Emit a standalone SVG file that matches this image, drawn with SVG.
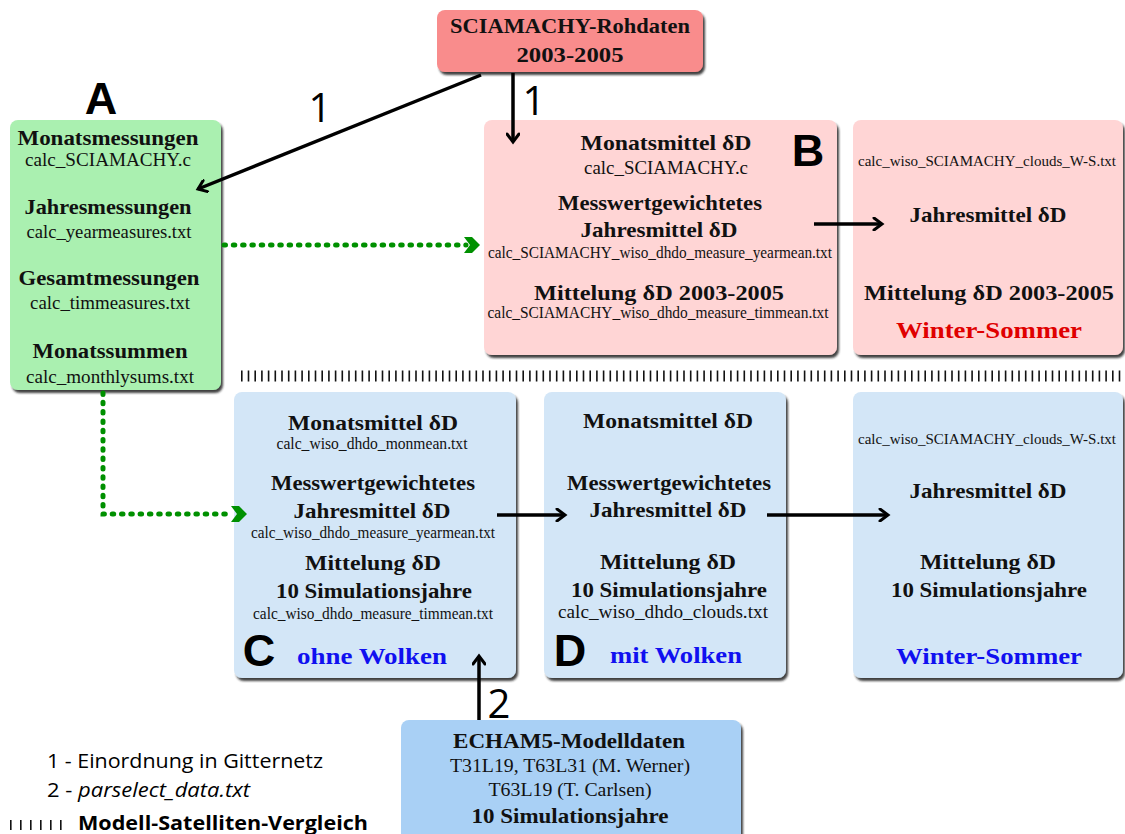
<svg xmlns="http://www.w3.org/2000/svg" width="1125" height="834" viewBox="0 0 1125 834">
<defs>
<filter id="sh" x="-5%" y="-5%" width="112%" height="115%">
<feDropShadow dx="2" dy="3" stdDeviation="1.2" flood-color="#1a1a1a" flood-opacity="0.85"/>
</filter>
<marker id="ah" markerWidth="14" markerHeight="14" refX="11" refY="7" orient="auto" markerUnits="userSpaceOnUse">
<path d="M3,1 L11,7 L3,13" fill="none" stroke="#000" stroke-width="3" stroke-linecap="round" stroke-linejoin="miter"/>
</marker>
</defs>
<style>
.h{font-family:"Liberation Serif",serif;font-weight:bold;font-size:22px;fill:#111;text-anchor:middle}
.f{font-family:"Liberation Serif",serif;font-size:18px;fill:#111;text-anchor:middle}
.s{font-family:"Liberation Serif",serif;font-size:16px;fill:#111;text-anchor:middle}
.ss{font-family:"Liberation Serif",serif;font-size:14px;fill:#111;text-anchor:middle}
.c{font-family:"Liberation Serif",serif;font-weight:bold;font-size:24px;text-anchor:middle}
.L{font-family:"Liberation Sans",sans-serif;font-weight:bold;font-size:45px;fill:#000;text-anchor:middle}
.n{font-family:"Open Sans","Liberation Sans",sans-serif;font-size:40px;fill:#000;text-anchor:middle}
.lg{font-family:"Open Sans","Liberation Sans",sans-serif;font-size:20px;fill:#000}
.w{stroke:#000;stroke-width:3.5;fill:none;marker-end:url(#ah)}
.g{stroke:#009000;stroke-width:5;fill:none;stroke-linecap:round;stroke-dasharray:1.5 7.8}
.gh{fill:#009000}
</style>

<g id="sciamachy">
<rect x="437" y="10" width="266" height="62" rx="8" fill="#f98c8c" filter="url(#sh)"/>
<text class="h" x="570" y="33" textLength="240" lengthAdjust="spacingAndGlyphs">SCIAMACHY-Rohdaten</text>
<text class="h" x="570" y="62" textLength="107" lengthAdjust="spacingAndGlyphs">2003-2005</text>
</g>

<g id="A">
<text class="L" x="101" y="114">A</text>
<rect x="10" y="120" width="211" height="270" rx="8" fill="#aaf0b0" filter="url(#sh)"/>
<text class="h" x="108" y="145" textLength="181" lengthAdjust="spacingAndGlyphs">Monatsmessungen</text>
<text class="f" x="108" y="166" textLength="166" lengthAdjust="spacingAndGlyphs">calc_SCIAMACHY.c</text>
<text class="h" x="108" y="214" textLength="167" lengthAdjust="spacingAndGlyphs">Jahresmessungen</text>
<text class="f" x="109" y="238" textLength="165" lengthAdjust="spacingAndGlyphs">calc_yearmeasures.txt</text>
<text class="h" x="109" y="285" textLength="181" lengthAdjust="spacingAndGlyphs">Gesamtmessungen</text>
<text class="f" x="110" y="309" textLength="160" lengthAdjust="spacingAndGlyphs">calc_timmeasures.txt</text>
<text class="h" x="110" y="358" textLength="155" lengthAdjust="spacingAndGlyphs">Monatssummen</text>
<text class="f" x="110" y="383" textLength="168" lengthAdjust="spacingAndGlyphs">calc_monthlysums.txt</text>
</g>

<g id="B">
<rect x="484" y="120" width="353" height="235" rx="8" fill="#ffd5d5" filter="url(#sh)"/>
<text class="L" x="808" y="166">B</text>
<text class="h" x="666" y="150" textLength="171" lengthAdjust="spacingAndGlyphs">Monatsmittel δD</text>
<text class="f" x="666" y="174" textLength="164" lengthAdjust="spacingAndGlyphs">calc_SCIAMACHY.c</text>
<text class="h" x="660" y="210" textLength="204" lengthAdjust="spacingAndGlyphs">Messwertgewichtetes</text>
<text class="h" x="659" y="237" textLength="157" lengthAdjust="spacingAndGlyphs">Jahresmittel δD</text>
<text class="s" x="660" y="258" textLength="344" lengthAdjust="spacingAndGlyphs">calc_SCIAMACHY_wiso_dhdo_measure_yearmean.txt</text>
<text class="h" x="659" y="300" textLength="250" lengthAdjust="spacingAndGlyphs">Mittelung δD 2003-2005</text>
<text class="s" x="658" y="318" textLength="341" lengthAdjust="spacingAndGlyphs">calc_SCIAMACHY_wiso_dhdo_measure_timmean.txt</text>
</g>

<g id="B2">
<rect x="853" y="120" width="270" height="235" rx="8" fill="#ffd5d5" filter="url(#sh)"/>
<text class="ss" x="987" y="166" textLength="258" lengthAdjust="spacingAndGlyphs">calc_wiso_SCIAMACHY_clouds_W-S.txt</text>
<text class="h" x="988" y="222" textLength="157" lengthAdjust="spacingAndGlyphs">Jahresmittel δD</text>
<text class="h" x="989" y="300" textLength="250" lengthAdjust="spacingAndGlyphs">Mittelung δD 2003-2005</text>
<text class="c" x="989" y="338" fill="#e00000" textLength="186" lengthAdjust="spacingAndGlyphs">Winter-Sommer</text>
</g>

<g id="separator">
<line x1="241" y1="376" x2="1125" y2="376" stroke="#111" stroke-width="11" stroke-dasharray="1.6 5.1"/>
</g>

<g id="C">
<rect x="234" y="392" width="282" height="286" rx="8" fill="#d3e6f7" filter="url(#sh)"/>
<text class="h" x="373" y="430" textLength="170" lengthAdjust="spacingAndGlyphs">Monatsmittel δD</text>
<text class="s" x="372" y="449" textLength="191" lengthAdjust="spacingAndGlyphs">calc_wiso_dhdo_monmean.txt</text>
<text class="h" x="373" y="490" textLength="204" lengthAdjust="spacingAndGlyphs">Messwertgewichtetes</text>
<text class="h" x="372" y="518" textLength="157" lengthAdjust="spacingAndGlyphs">Jahresmittel δD</text>
<text class="s" x="373" y="538" textLength="244" lengthAdjust="spacingAndGlyphs">calc_wiso_dhdo_measure_yearmean.txt</text>
<text class="h" x="373" y="570" textLength="136" lengthAdjust="spacingAndGlyphs">Mittelung δD</text>
<text class="h" x="374" y="598" textLength="196" lengthAdjust="spacingAndGlyphs">10 Simulationsjahre</text>
<text class="s" x="373" y="619" textLength="240" lengthAdjust="spacingAndGlyphs">calc_wiso_dhdo_measure_timmean.txt</text>
<text class="L" x="259" y="666">C</text>
<text class="c" x="372" y="664" fill="#1010f0" textLength="150" lengthAdjust="spacingAndGlyphs">ohne Wolken</text>
</g>

<g id="D">
<rect x="544" y="392" width="242" height="286" rx="8" fill="#d3e6f7" filter="url(#sh)"/>
<text class="h" x="668" y="428" textLength="170" lengthAdjust="spacingAndGlyphs">Monatsmittel δD</text>
<text class="h" x="669" y="490" textLength="204" lengthAdjust="spacingAndGlyphs">Messwertgewichtetes</text>
<text class="h" x="668" y="517" textLength="157" lengthAdjust="spacingAndGlyphs">Jahresmittel δD</text>
<text class="h" x="668" y="569" textLength="136" lengthAdjust="spacingAndGlyphs">Mittelung δD</text>
<text class="h" x="669" y="597" textLength="196" lengthAdjust="spacingAndGlyphs">10 Simulationsjahre</text>
<text class="f" x="663" y="618" textLength="210" lengthAdjust="spacingAndGlyphs">calc_wiso_dhdo_clouds.txt</text>
<text class="L" x="570" y="666">D</text>
<text class="c" x="676" y="663" fill="#1010f0" textLength="132" lengthAdjust="spacingAndGlyphs">mit Wolken</text>
</g>

<g id="E">
<rect x="853" y="392" width="270" height="286" rx="8" fill="#d3e6f7" filter="url(#sh)"/>
<text class="ss" x="987" y="444" textLength="258" lengthAdjust="spacingAndGlyphs">calc_wiso_SCIAMACHY_clouds_W-S.txt</text>
<text class="h" x="988" y="498" textLength="157" lengthAdjust="spacingAndGlyphs">Jahresmittel δD</text>
<text class="h" x="988" y="569" textLength="136" lengthAdjust="spacingAndGlyphs">Mittelung δD</text>
<text class="h" x="989" y="597" textLength="196" lengthAdjust="spacingAndGlyphs">10 Simulationsjahre</text>
<text class="c" x="989" y="664" fill="#1010f0" textLength="186" lengthAdjust="spacingAndGlyphs">Winter-Sommer</text>
</g>

<g id="echam">
<rect x="401" y="720" width="340" height="125" rx="8" fill="#a9d0f5" filter="url(#sh)"/>
<text class="h" x="569" y="748" textLength="232" lengthAdjust="spacingAndGlyphs">ECHAM5-Modelldaten</text>
<text class="f" x="570" y="772" textLength="240" lengthAdjust="spacingAndGlyphs">T31L19, T63L31 (M. Werner)</text>
<text class="f" x="570" y="796" textLength="163" lengthAdjust="spacingAndGlyphs">T63L19 (T. Carlsen)</text>
<text class="h" x="570" y="823" textLength="197" lengthAdjust="spacingAndGlyphs">10 Simulationsjahre</text>
</g>

<g id="legend">
<text class="lg" x="47" y="768" textLength="276" lengthAdjust="spacingAndGlyphs">1 - Einordnung in Gitternetz</text>
<text class="lg" x="47" y="797" textLength="203" lengthAdjust="spacingAndGlyphs">2 - <tspan font-style="italic">parselect_data.txt</tspan></text>
<line x1="10" y1="825" x2="64" y2="825" stroke="#111" stroke-width="10" stroke-dasharray="1.6 8.4"/>
<text class="lg" x="78" y="830" font-weight="bold" textLength="290" lengthAdjust="spacingAndGlyphs">Modell-Satelliten-Vergleich</text>
</g>

<g id="connectors">
<line class="w" x1="481" y1="75" x2="198" y2="189"/>
<line class="w" x1="513" y1="73" x2="513" y2="142"/>
<line class="w" x1="814" y1="224" x2="882" y2="224"/>
<line class="w" x1="497" y1="515" x2="565" y2="515"/>
<line class="w" x1="767" y1="515" x2="888" y2="515"/>
<line class="w" x1="479" y1="720" x2="479" y2="656"/>
<path class="g" d="M224,245 L466,245"/>
<polygon class="gh" points="464,237 472,237 480,245 472,253 464,253 470,245"/>
<path class="g" d="M103,393 L103,514 L233,514"/>
<polygon class="gh" points="231,506 239,506 247,514 239,522 231,522 237,514"/>
<text class="n" x="320" y="122">1</text>
<text class="n" x="534" y="115">1</text>
<text class="n" x="499" y="718">2</text>
</g>
</svg>
